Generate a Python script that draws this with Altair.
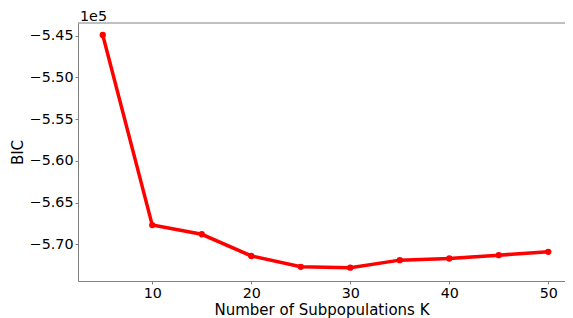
import altair as alt
import pandas as pd

k_values = [5, 10, 15, 20, 25, 30, 35, 40, 45, 50]
bic_values = [-544920, -567700, -568800, -571400, -572700, -572800, -571900, -571700, -571300, -570900]
x_ticks = [10, 20, 30, 40, 50]
y_ticks = [-5.45, -5.50, -5.55, -5.60, -5.65, -5.70]

df = pd.DataFrame({"K": k_values, "BIC": bic_values})

W, H = 487, 258
GRAY = "#808080"
FONT = "DejaVu Sans"
X_MIN = 2.5
X_MAX = X_MIN + W / 9.9

base = alt.Chart(df).transform_calculate(B="datum.BIC / 100000")

line = base.mark_line(
    color="#ff0000", strokeWidth=3.5,
    point=alt.OverlayMarkDef(color="#ff0000", size=40, filled=True, opacity=1),
).encode(
    x=alt.X("K:Q", scale=alt.Scale(domain=[X_MIN, X_MAX], nice=False, zero=False),
            axis=alt.Axis(values=x_ticks, title="Number of Subpopulations K", format="d",
                          labelPadding=2, titlePadding=2)),
    y=alt.Y("B:Q", scale=alt.Scale(domain=[-5.744, -5.4348], nice=False, zero=False),
            axis=alt.Axis(values=y_ticks, title="BIC", format=".2f",
                          labelExpr="replace(datum.label, '-', '\u2212')",
                          labelPadding=2, titlePadding=4)),
)

top_rule = alt.Chart(alt.Data(values=[{}])).mark_rule(color=GRAY, strokeWidth=1).encode(
    x=alt.value(0), x2=alt.value(W + 10), y=alt.value(0)
)

offset_text = alt.Chart(alt.Data(values=[{}])).mark_text(
    text="1e5", align="left", baseline="alphabetic", fontSize=14.3, font=FONT, color="black"
).encode(x=alt.value(2), y=alt.value(-2))

chart = alt.layer(line, top_rule, offset_text).properties(
    width=W, height=H,
    autosize=alt.AutoSizeParams(type="none"),
    padding={"left": 70, "top": 15, "right": 0, "bottom": 37},
).configure_view(stroke=None).configure_axis(
    grid=False, domainColor=GRAY, tickColor=GRAY, tickSize=3,
    labelFont=FONT, labelFontSize=14.3, labelColor="black",
    titleFont=FONT, titleFontSize=15, titleFontWeight="normal", titleColor="black",
)

chart.save("out.html", embed_options={"renderer": "svg", "actions": False})
